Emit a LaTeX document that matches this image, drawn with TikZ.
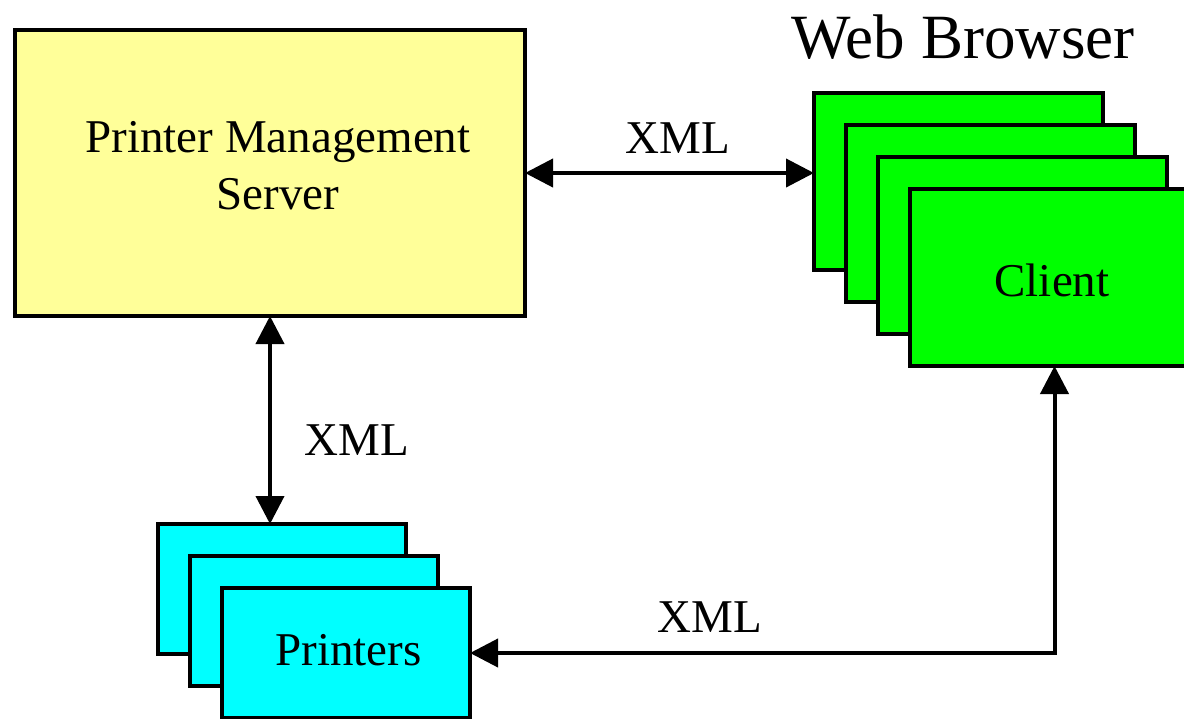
\documentclass[tikz,border=0pt]{standalone}
\usepackage{fontspec}
\setmainfont{Liberation Serif}
\usetikzlibrary{arrows.meta,calc}
\definecolor{srvyellow}{HTML}{FFFF99}
\definecolor{clgreen}{HTML}{00FF00}
\definecolor{prcyan}{HTML}{00FFFF}
\begin{document}
\begin{tikzpicture}[x=1pt,y=-1pt,
  box/.style={draw=black,line width=4pt,rectangle,inner sep=0pt,outer sep=0pt},
  srvbox/.style={box,fill=srvyellow,minimum width=510pt,minimum height=286pt},
  clbox/.style={box,fill=clgreen,minimum width=289pt,minimum height=177pt},
  prbox/.style={box,fill=prcyan,minimum width=248pt,minimum height=130pt},
  lbl/.style={font=\fontsize{47}{57}\selectfont,inner sep=0pt,align=center},
  conn/.style={line width=4pt,{Triangle[length=28pt,width=28pt]}-{Triangle[length=28pt,width=28pt]}}
]
\path[use as bounding box] (0,0) rectangle (1184,718);
\clip (0,0) rectangle (1184,718);
\node[srvbox] (server) at (270,173) {};
\node[lbl] (servertext) at (278,166) {Printer Management\\Server};
\node[clbox] (c1) at (958.5,181.5) {};
\node[clbox] (c2) at (990.5,213.5) {};
\node[clbox] (c3) at (1022.5,245.5) {};
\node[clbox] (c4) at (1054.5,277.5) {};
\node[lbl] (clienttext) at (1052,280) {Client};
\node[prbox] (p1) at (282,589) {};
\node[prbox] (p2) at (314,621) {};
\node[prbox] (p3) at (346,653) {};
\node[lbl] (printertext) at (348.5,650) {Printers};
\node[font=\fontsize{63}{70}\selectfont,inner sep=0pt] (title) at (963,37) {Web Browser};
\draw[conn] (server.east) -- (server.east -| c1.west);
\draw[conn] (server.south) -- (server.south |- p1.north);
\draw[conn,line join=miter] (c4.south) -- (c4.south |- p3.east) -- (p3.east);
\node[lbl] (xml1) at (678,138) {XML};
\node[lbl] (xml2) at (357,440) {XML};
\node[lbl] (xml3) at (710,617) {XML};
\end{tikzpicture}
\end{document}
